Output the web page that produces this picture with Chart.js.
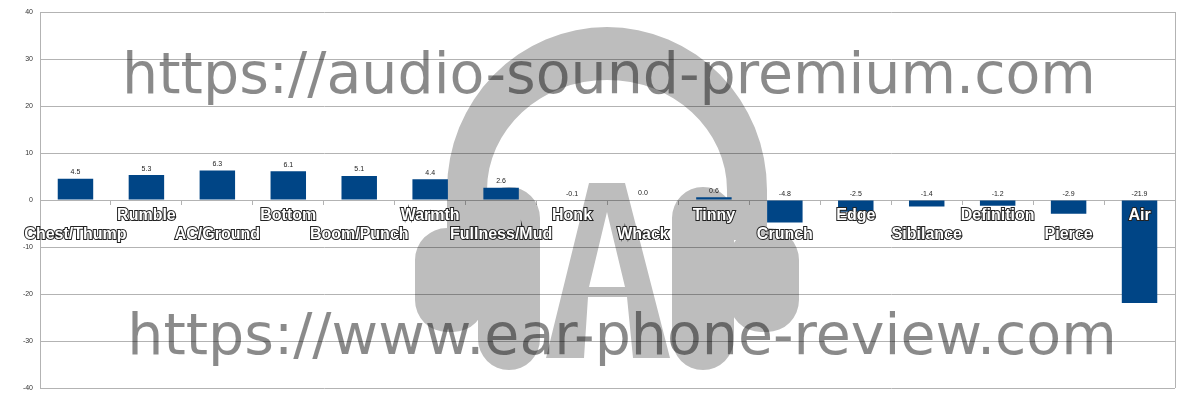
<!DOCTYPE html>
<html>
<head>
<meta charset="utf-8">
<script src="https://cdn.jsdelivr.net/npm/chart.js@4.4.1/dist/chart.umd.min.js"></script>
<style>
  body { margin: 0; background: #fff; }
  #wrap { width: 1200px; height: 400px; }
</style>
</head>
<body>
<div id="wrap"><canvas id="myChart" width="1200" height="400"></canvas></div>
<script>
// categories, staggered on two rows like the original
const categories = ["Chest/Thump", "Rumble", "AC/Ground", "Bottom", "Boom/Punch", "Warmth",
  "Fullness/Mud", "Honk", "Whack", "Tinny", "Crunch", "Edge", "Sibilance", "Definition", "Pierce", "Air"];
const values = [4.5, 5.3, 6.3, 6.1, 5.1, 4.4, 2.6, -0.1, 0.0, 0.6, -4.8, -2.5, -1.4, -1.2, -2.9, -21.9];
const yTicks = [-40, -30, -20, -10, 0, 10, 20, 30, 40];
const watermarkTexts = ["https://audio-sound-premium.com", "https://www.ear-phone-review.com"];

const labels = categories.map((c, i) => (i % 2 === 1 ? [c, ""] : ["", c]));

// headphone logo + urls behind the bars
const watermark = {
  id: "watermark",
  beforeDatasetsDraw(chart) {
    const ctx = chart.ctx;
    const area = chart.chartArea;
    // frame on the right side of the plot
    ctx.save();
    ctx.strokeStyle = "#b3b3b3";
    ctx.lineWidth = 1;
    ctx.beginPath();
    ctx.moveTo(Math.round(area.right) + 0.5, area.top);
    ctx.lineTo(Math.round(area.right) + 0.5, area.bottom);
    ctx.stroke();
    ctx.restore();

    const off = document.createElement("canvas");
    off.width = chart.width;
    off.height = chart.height;
    const o = off.getContext("2d");
    o.fillStyle = "#000";
    // headband
    o.beginPath();
    o.ellipse(607, 190, 160, 163, 0, Math.PI, 2 * Math.PI);
    o.lineTo(767, 240);
    o.lineTo(727, 240);
    o.lineTo(727, 190);
    o.ellipse(607, 190, 120, 110, 0, 0, Math.PI, true);
    o.lineTo(487, 240);
    o.lineTo(447, 240);
    o.closePath();
    o.fill();
    // ear cups
    o.beginPath();
    o.roundRect(415, 228, 70, 104, 32);
    o.roundRect(478, 187, 62, 183, 31);
    o.roundRect(672, 187, 62, 183, 31);
    o.roundRect(729, 228, 70, 104, 32);
    o.fill();
    // letter A
    o.beginPath();
    o.moveTo(589, 183);
    o.lineTo(625, 183);
    o.lineTo(670, 358);
    o.lineTo(633, 358);
    o.lineTo(627, 297);
    o.lineTo(588, 297);
    o.lineTo(584, 358);
    o.lineTo(546, 358);
    o.closePath();
    o.moveTo(607, 212);
    o.lineTo(625, 287);
    o.lineTo(589, 287);
    o.closePath();
    o.fill("evenodd");

    ctx.save();
    ctx.globalAlpha = 0.26;
    ctx.drawImage(off, 0, 0);
    ctx.restore();

    ctx.save();
    ctx.fillStyle = "rgba(0,0,0,0.46)";
    ctx.font = '57px "DejaVu Sans"';
    ctx.textAlign = "center";
    ctx.textBaseline = "alphabetic";
    ctx.fillText(watermarkTexts[0], 609, 93);
    ctx.fillText(watermarkTexts[1], 622, 354);
    ctx.restore();
  },
  afterDatasetsDraw(chart) {
    const ctx = chart.ctx;
    const meta = chart.getDatasetMeta(0);
    ctx.save();
    ctx.fillStyle = "#222";
    ctx.font = '7px "Liberation Sans"';
    ctx.textAlign = "center";
    ctx.textBaseline = "bottom";
    meta.data.forEach((bar, i) => {
      const y = Math.min(bar.y, bar.base) - 3;
      ctx.fillText(values[i].toFixed(1), bar.x, y);
    });
    ctx.restore();
  }
};

const ctx = document.getElementById("myChart").getContext("2d");
const myChart = new Chart(ctx, {
  type: "bar",
  data: {
    labels: labels,
    datasets: [{
      data: values,
      backgroundColor: "#004586",
      borderWidth: 0,
      categoryPercentage: 1.0,
      barPercentage: 0.5
    }]
  },
  options: {
    responsive: false,
    animation: false,
    layout: { padding: { top: 12, bottom: 12, left: 0, right: 25 } },
    plugins: {
      legend: { display: false },
      tooltip: { enabled: false }
    },
    scales: {
      x: {
        position: { y: 0 },
        grid: {
          display: true,
          drawOnChartArea: false,
          drawTicks: true,
          tickLength: 4,
          color: "#b3b3b3",
          offset: true
        },
        border: { display: true, color: "#b3b3b3" },
        ticks: {
          z: 1,
          autoSkip: false,
          maxRotation: 0,
          minRotation: 0,
          padding: 2,
          color: "#ffffff",
          textStrokeColor: "#222222",
          textStrokeWidth: 2,
          font: { family: "Liberation Sans", size: 16, weight: "bold", lineHeight: "19px" }
        }
      },
      y: {
        min: -40,
        max: 40,
        afterFit(scale) { scale.width = 40; },
        afterBuildTicks(scale) { scale.ticks = yTicks.map(v => ({ value: v })); },
        grid: { color: "#b3b3b3", drawTicks: false },
        border: { display: true, color: "#b3b3b3" },
        ticks: {
          padding: 7,
          color: "#333",
          font: { family: "Liberation Sans", size: 7 }
        }
      }
    }
  },
  plugins: [watermark]
});
</script>
</body>
</html>
